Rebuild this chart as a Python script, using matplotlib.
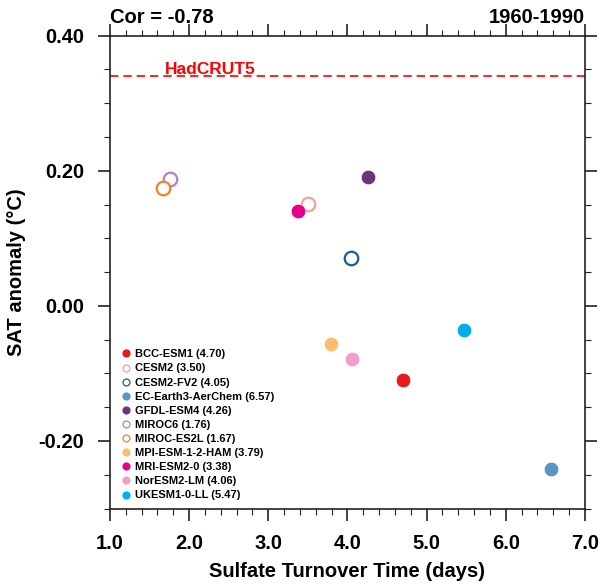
import matplotlib
matplotlib.use("Agg")
import matplotlib.pyplot as plt
from matplotlib.lines import Line2D
from matplotlib.ticker import MultipleLocator, FormatStrFormatter

plt.rcParams['font.family'] = ['Liberation Sans', 'DejaVu Sans']
plt.rcParams['font.weight'] = 'bold'

# model name, turnover time (days), SAT anomaly (degC)
models = ['BCC-ESM1', 'CESM2', 'CESM2-FV2', 'EC-Earth3-AerChem', 'GFDL-ESM4',
          'MIROC6', 'MIROC-ES2L', 'MPI-ESM-1-2-HAM', 'MRI-ESM2-0',
          'NorESM2-LM', 'UKESM1-0-LL']
turnover = [4.70, 3.50, 4.05, 6.57, 4.26, 1.76, 1.67, 3.79, 3.38, 4.06, 5.47]
sat_anom = [-0.110, 0.151, 0.071, -0.241, 0.191, 0.188, 0.175, -0.056, 0.141,
            -0.079, -0.036]
filled = [True, False, False, True, True, False, False, True, True, True, True]
colors = ['#e41a1c', '#f4a09a', '#1f5a8a', '#5b94c6', '#6b3478', '#b57fcb',
          '#f58220', '#fdbd6e', '#e8008a', '#f59cce', '#00adef']
hadcrut5 = 0.341
cor_text = 'Cor = -0.78'
period = '1960-1990'

fig = plt.figure(figsize=(6.0, 5.87), dpi=100)
ax = fig.add_axes([0.1833, 0.1337, 0.7917, 0.8055])

for name, x, y, f, c in zip(models, turnover, sat_anom, filled, colors):
    if f:
        ax.scatter(x, y, s=110, color=c, edgecolor='white', linewidth=0.5, zorder=3)
    else:
        ax.scatter(x, y, s=95, facecolor='white', edgecolor=c, linewidth=1.6, zorder=3)

ax.axhline(hadcrut5, color='red', linestyle=(0, (5, 3)), linewidth=1.2)
ax.text(1.69, hadcrut5 + 0.003, 'HadCRUT5', color='red', fontsize=12.5,
        fontweight='bold', ha='left', va='baseline')

ax.set_xlim(1.0, 7.0)
ax.set_ylim(-0.30, 0.40)
ax.xaxis.set_major_locator(MultipleLocator(1.0))
ax.xaxis.set_minor_locator(MultipleLocator(0.2))
ax.yaxis.set_major_locator(MultipleLocator(0.2))
ax.yaxis.set_minor_locator(MultipleLocator(0.05))
ax.xaxis.set_major_formatter(FormatStrFormatter('%.1f'))
ax.yaxis.set_major_formatter(FormatStrFormatter('%.2f'))

ax.tick_params(which='both', direction='out', top=True, right=True,
               labeltop=False, labelright=False, color='#222222')
ax.tick_params(which='major', length=8.5, width=1.2, labelsize=14.5)
ax.tick_params(axis='x', which='major', pad=10)
ax.tick_params(axis='y', which='major', pad=10)
ax.tick_params(which='minor', length=4.3, width=0.8)
for s in ax.spines.values():
    s.set_linewidth(1.2)
    s.set_color('#222222')

ax.set_xlabel('Sulfate Turnover Time (days)', fontsize=14.5, fontweight='bold',
              labelpad=6)
ax.set_ylabel('SAT anomaly (\u00b0C)', fontsize=14.5, fontweight='bold',
              labelpad=9)

ax.text(0.0, 1.026, cor_text, transform=ax.transAxes, ha='left', va='baseline',
        fontsize=14.5, fontweight='bold')
ax.text(1.0, 1.026, period, transform=ax.transAxes, ha='right', va='baseline',
        fontsize=14.5, fontweight='bold')

handles = []
for name, x, f, c in zip(models, turnover, filled, colors):
    handles.append(Line2D([], [], linestyle='none', marker='o', markersize=5,
                          markerfacecolor=c if f else 'white',
                          markeredgecolor=c, markeredgewidth=0.9,
                          label='{} ({:.2f})'.format(name, x)))
leg = ax.legend(handles=handles, loc='upper left', bbox_to_anchor=(0.0126, 0.346),
                frameon=False, fontsize=8.0, handletextpad=0.3,
                labelspacing=0.37, handlelength=1.0, borderaxespad=0.0)
for t in leg.get_texts():
    t.set_fontweight('bold')

fig.savefig('out.png', dpi=100)
